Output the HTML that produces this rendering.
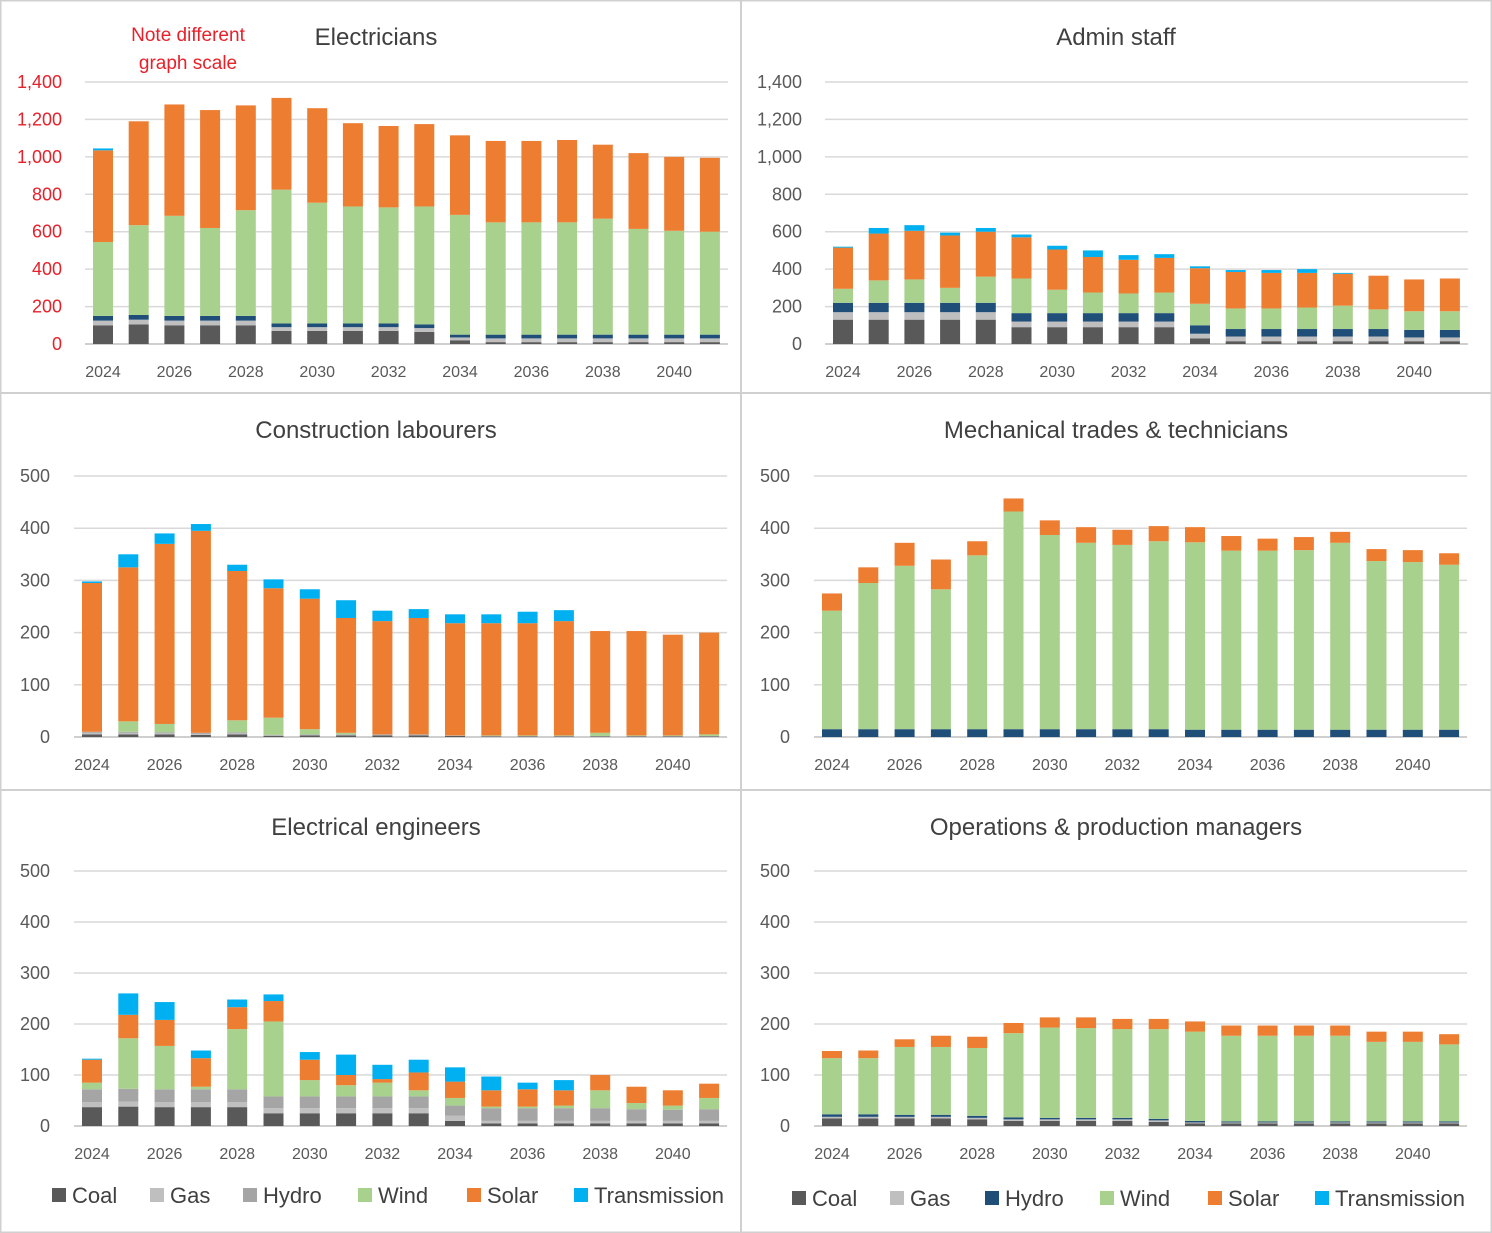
<!DOCTYPE html>
<html><head><meta charset="utf-8"><style>
body{margin:0;background:#fff;}
svg{display:block;font-family:"Liberation Sans",sans-serif;}
</style></head><body>
<svg id="chart" width="1492" height="1233" viewBox="0 0 1492 1233" xmlns="http://www.w3.org/2000/svg"></svg>
<script>
const years = [2024,2025,2026,2027,2028,2029,2030,2031,2032,2033,2034,2035,2036,2037,2038,2039,2040,2041];
const seriesNames = ["Coal","Gas","Hydro","Wind","Solar","Transmission"];
// Electricians
const elecCoal = [100,105,100,100,100,70,70,70,70,65,20,10,10,10,10,10,10,10];
const elecGas = [25,25,25,25,25,20,20,20,20,20,15,20,20,20,20,20,20,20];
const elecHydro = [25,25,25,25,25,20,20,20,20,20,15,20,20,20,20,20,20,20];
const elecWind = [395,480,535,470,565,715,645,625,620,630,640,600,600,600,620,565,555,550];
const elecSolar = [490,555,595,630,560,490,505,445,435,440,425,435,435,440,395,405,395,395];
const elecTrans = [10,0,0,0,0,0,0,0,0,0,0,0,0,0,0,0,0,0];
// Admin staff
const adminCoal = [130,130,130,130,130,90,90,90,90,90,30,15,15,15,15,15,15,15];
const adminGas = [40,40,40,40,40,30,30,30,30,30,25,25,25,25,25,25,20,20];
const adminHydro = [50,50,50,50,50,45,45,45,45,45,45,40,40,40,40,40,40,40];
const adminWind = [75,120,125,80,140,185,125,110,105,110,115,110,110,115,125,105,100,100];
const adminSolar = [220,250,260,280,240,220,215,190,180,185,190,195,190,185,170,180,170,175];
const adminTrans = [5,30,30,15,20,15,20,35,25,20,10,10,15,20,5,0,0,0];
// Construction labourers
const conCoal = [5,5,5,4,5,2,3,3,3,3,2,1,1,1,1,1,1,1];
const conGas = [3,3,2,2,2,1,1,1,1,1,1,1,1,1,1,1,1,1];
const conHydro = [2,2,2,2,2,1,1,1,1,1,0,0,0,0,0,0,0,0];
const conWind = [0,20,16,0,23,33,10,3,0,0,0,1,1,1,6,1,1,3];
const conSolar = [285,295,345,387,286,248,250,220,217,223,215,215,215,219,195,200,193,195];
const conTrans = [3,25,20,13,12,17,18,34,20,17,17,17,22,21,0,0,0,0];
// Mechanical trades & technicians
const mechCoal = [0,0,0,0,0,0,0,0,0,0,0,0,0,0,0,0,0,0];
const mechGas = [0,0,0,0,0,0,0,0,0,0,0,0,0,0,0,0,0,0];
const mechHydro = [15,15,15,15,15,15,15,15,15,15,14,14,14,14,14,14,14,14];
const mechWind = [227,280,313,268,333,417,372,357,353,360,359,343,343,344,358,323,321,316];
const mechSolar = [33,30,44,57,27,25,28,30,29,29,29,28,23,25,21,23,23,22];
const mechTrans = [0,0,0,0,0,0,0,0,0,0,0,0,0,0,0,0,0,0];
// Electrical engineers
const engCoal = [37,38,37,37,37,25,25,25,25,25,10,5,5,5,5,5,5,5];
const engGas = [10,10,10,10,10,10,10,10,10,10,10,5,5,5,5,5,5,5];
const engHydro = [25,25,25,25,25,23,23,23,23,23,20,25,25,25,25,23,22,23];
const engWind = [13,99,85,5,118,147,32,22,27,12,15,3,3,5,35,12,8,22];
const engSolar = [45,46,51,56,43,40,40,20,7,35,32,32,34,30,30,32,30,28];
const engTrans = [2,42,35,15,15,13,15,40,28,25,28,27,13,20,0,0,0,0];
// Operations & production managers
const opsCoal = [15,15,15,15,13,10,10,10,10,8,5,5,5,5,5,5,5,5];
const opsGas = [3,3,3,3,3,3,3,3,3,3,2,2,2,2,2,2,2,2];
const opsHydro = [5,5,4,4,4,4,3,3,3,3,3,2,2,2,2,2,2,2];
const opsWind = [110,110,133,133,133,165,177,176,174,176,175,168,168,168,168,156,156,151];
const opsSolar = [14,15,15,22,22,20,20,21,20,20,20,20,20,20,20,20,20,20];
const opsTrans = [0,0,0,0,0,0,0,0,0,0,0,0,0,0,0,0,0,0];

const NS="http://www.w3.org/2000/svg";
const svg=document.getElementById('chart');
function mk(tag,attrs,parent){const e=document.createElementNS(NS,tag);for(const k in attrs)e.setAttribute(k,attrs[k]);(parent||svg).appendChild(e);return e;}

// panel borders
const frame=mk('g',{});


mk('rect',{x:0.5,y:0.5,width:1491,height:1232,fill:'none',stroke:'#d0d0d0','stroke-width':2},frame);
mk('line',{x1:741,y1:0,x2:741,y2:1233,stroke:'#d0d0d0','stroke-width':2},frame);
mk('line',{x1:0,y1:393,x2:1492,y2:393,stroke:'#d0d0d0','stroke-width':2},frame);
mk('line',{x1:0,y1:790,x2:1492,y2:790,stroke:'#d0d0d0','stroke-width':2},frame);

const HYDRO_NAVY='#1f4e79', HYDRO_GRAY='#a5a5a5';
const panels=[
 {name:'electricians',title:'Electricians',tx:376,ty:37,x0:103,dx:35.7,y0:344,max:1400,step:200,h:262,lx:62,xly:371,red:true,hydro:HYDRO_NAVY,data:[elecCoal,elecGas,elecHydro,elecWind,elecSolar,elecTrans]},
 {name:'admin-staff',title:'Admin staff',tx:1116,ty:37,x0:843,dx:35.7,y0:344,max:1400,step:200,h:262,lx:802,xly:371,hydro:HYDRO_NAVY,data:[adminCoal,adminGas,adminHydro,adminWind,adminSolar,adminTrans]},
 {name:'construction-labourers',title:'Construction labourers',tx:376,ty:430,x0:92,dx:36.3,y0:737,max:500,step:100,h:261,lx:50,xly:764,hydro:HYDRO_GRAY,data:[conCoal,conGas,conHydro,conWind,conSolar,conTrans]},
 {name:'mechanical-trades',title:'Mechanical trades & technicians',tx:1116,ty:430,x0:832,dx:36.3,y0:737,max:500,step:100,h:261,lx:790,xly:764,hydro:HYDRO_NAVY,data:[mechCoal,mechGas,mechHydro,mechWind,mechSolar,mechTrans]},
 {name:'electrical-engineers',title:'Electrical engineers',tx:376,ty:827,x0:92,dx:36.3,y0:1126,max:500,step:100,h:255,lx:50,xly:1153,hydro:HYDRO_GRAY,data:[engCoal,engGas,engHydro,engWind,engSolar,engTrans]},
 {name:'operations-managers',title:'Operations & production managers',tx:1116,ty:827,x0:832,dx:36.3,y0:1126,max:500,step:100,h:255,lx:790,xly:1153,hydro:HYDRO_NAVY,data:[opsCoal,opsGas,opsHydro,opsWind,opsSolar,opsTrans]},
];
const baseColors=['#595959','#bfbfbf',null,'#a9d18e','#ed7d31','#00b0f0'];

panels.forEach(p=>{
 const g=mk('g',{});
 
 
 const yS=v=>p.y0-v/p.max*p.h;
 const xS=i=>p.x0+i*p.dx;
 const left=p.x0-18, right=xS(years.length-1)+18;
 for(let v=0;v<=p.max;v+=p.step){
  const gl=mk('line',{x1:left,x2:right,y1:yS(v),y2:yS(v),stroke:v===0?'#bfbfbf':'#d9d9d9','stroke-width':1.5},g);
  
  
  const t=mk('text',{x:p.lx,y:yS(v)+6,'text-anchor':'end','font-size':18,fill:p.red?'#e8202a':'#595959'},g);
  t.textContent=v.toLocaleString('en-US');
  
  
 }
 years.forEach((yr,i)=>{
  let acc=0;
  p.data.forEach((arr,s)=>{
   const v=arr[i]; if(!v) return;
   const col=s===2?p.hydro:baseColors[s];
   const r=mk('rect',{x:xS(i)-10,y:yS(acc+v),width:20,height:yS(acc)-yS(acc+v),fill:col},g);
   
   
   acc+=v;
  });
  if(i%2===0){
   const t=mk('text',{x:xS(i),y:p.xly+6,'text-anchor':'middle','font-size':16,fill:'#595959'},g);
   t.textContent=yr;
   
   
  }
 });
 const tt=mk('text',{x:p.tx,y:p.ty+8,'text-anchor':'middle','font-size':24,fill:'#404040'},g);
 tt.textContent=p.title;
 
 
});

// note
const note=mk('g',{});


[['Note different',41],['graph scale',69]].forEach(([s,y])=>{const t=mk('text',{x:188,y:y,'text-anchor':'middle','font-size':19,fill:'#e8202a'},note);t.textContent=s;});

// legends
const legends=[
 {name:'legend-left',y:1195,xs:[52,150,243,358,467,574],hydro:HYDRO_GRAY},
 {name:'legend-right',y:1198,xs:[792,890,985,1100,1208,1315],hydro:HYDRO_NAVY}
];
legends.forEach(L=>{
 const g=mk('g',{});
 
 
 seriesNames.forEach((n,s)=>{
  const e=mk('g',{},g);
  
  
  mk('rect',{x:L.xs[s],y:L.y-7,width:14,height:14,fill:s===2?L.hydro:baseColors[s]},e);
  const t=mk('text',{x:L.xs[s]+20,y:L.y+8,'font-size':22,fill:'#404040'},e);
  t.textContent=n;
 });
});
</script>
</body></html>
